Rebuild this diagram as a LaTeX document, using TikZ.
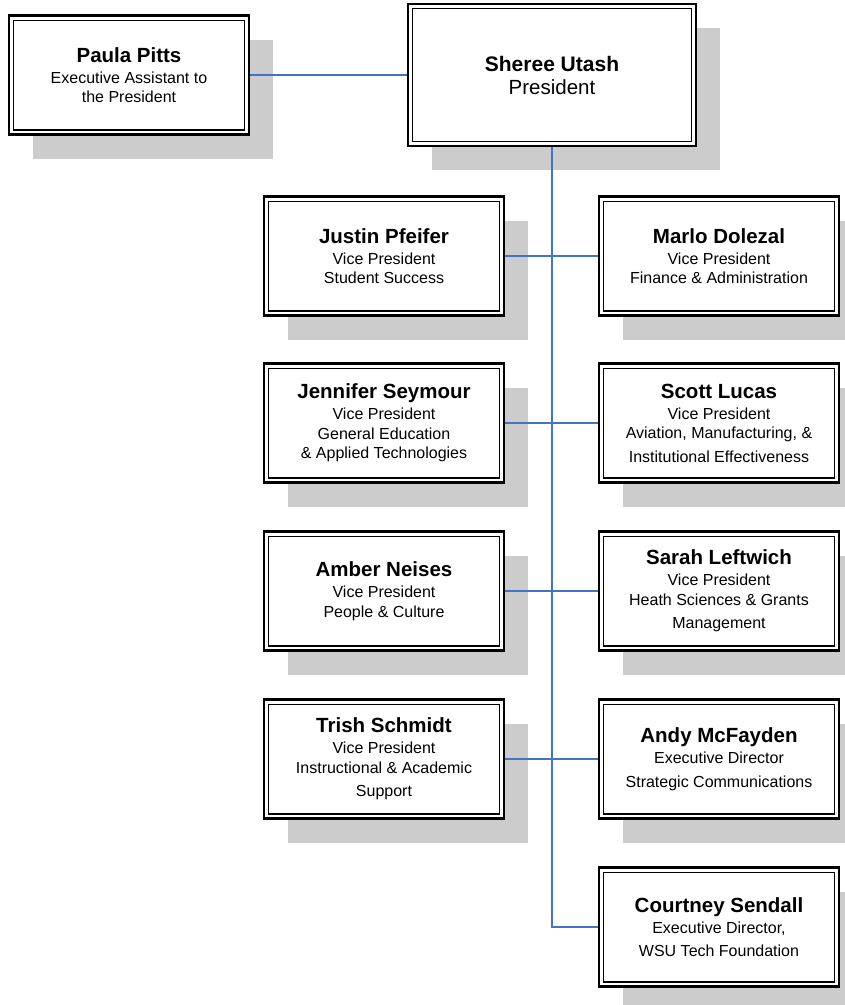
\documentclass[tikz,border=0pt]{standalone}
\usepackage{fontspec}
\setmainfont{Liberation Sans}
\usepackage{xcolor}
\usepackage{tikz}
\usetikzlibrary{shadows}
\definecolor{linkblue}{HTML}{4472C4}
\newcommand{\who}[1]{{\fontsize{20.5}{22}\selectfont\bfseries #1}}

\begin{document}
\begin{tikzpicture}[x=1pt, y=-1pt,
    person/.style={draw, line width=2.4pt, fill=white, align=center, inner sep=2pt,
      minimum width=240pt, minimum height=119pt,
      font=\fontsize{16}{19.5}\selectfont,
      general shadow={fill=black!20, shadow xshift=24pt, shadow yshift=-24pt},
      path picture={\draw[line width=1.2pt]
        ([shift={(4.6pt,4.6pt)}]path picture bounding box.south west) rectangle
        ([shift={(-4.6pt,-4.6pt)}]path picture bounding box.north east);}},
    link/.style={draw=linkblue, line width=1.5pt}]
    \clip (0,0) rectangle (845,1005);
    \begin{scope}
      \node[person] (pitts) at (129,75)
        {\who{Paula Pitts}\\[1.5pt]Executive Assistant to\\the President};
      \node[person, minimum width=288pt, minimum height=142pt] (utash) at (552,75)
        {{\fontsize{21}{23}\selectfont\bfseries Sheree Utash}\\[3.5pt]{\fontsize{20.5}{23}\selectfont President}};
    \end{scope}
    \begin{scope}
      \node[person] (pfeifer) at (384,256)
        {\who{Justin Pfeifer}\\[1.5pt]Vice President\\Student Success};
      \node[person] (seymour) at (384,423)
        {\who{Jennifer Seymour}\\[1.5pt]Vice President\\General Education\\\& Applied Technologies};
      \node[person] (neises) at (384,591)
        {\who{Amber Neises}\\[1.5pt]Vice President\\People \& Culture};
      \node[person] (schmidt) at (384,759)
        {\who{Trish Schmidt}\\[1.5pt]Vice President\\Instructional \& Academic\\[4pt]Support};
    \end{scope}
    \begin{scope}
      \node[person] (dolezal) at (719,256)
        {\who{Marlo Dolezal}\\[1.5pt]Vice President\\Finance \& Administration};
      \node[person] (lucas) at (719,423)
        {\who{Scott Lucas}\\[1.5pt]Vice President\\Aviation, Manufacturing, \&\\[4pt]Institutional Effectiveness};
      \node[person] (leftwich) at (719,591)
        {\who{Sarah Leftwich}\\[1.5pt]Vice President\\Heath Sciences \& Grants\\[4pt]Management};
      \node[person] (mcfayden) at (719,759)
        {\who{Andy McFayden}\\[1.5pt]Executive Director\\[4pt]Strategic Communications};
      \node[person] (sendall) at (719,927)
        {\who{Courtney Sendall}\\[1.5pt]Executive Director,\\[4pt]WSU Tech Foundation};
    \end{scope}
    \draw[link] (pitts.east) -- (utash.west);
    \draw[link] (utash.south) |- (sendall.west);
    \draw[link] (pfeifer.east) -- (dolezal.west);
    \draw[link] (seymour.east) -- (lucas.west);
    \draw[link] (neises.east) -- (leftwich.west);
    \draw[link] (schmidt.east) -- (mcfayden.west);
  \end{tikzpicture}
\end{document}
